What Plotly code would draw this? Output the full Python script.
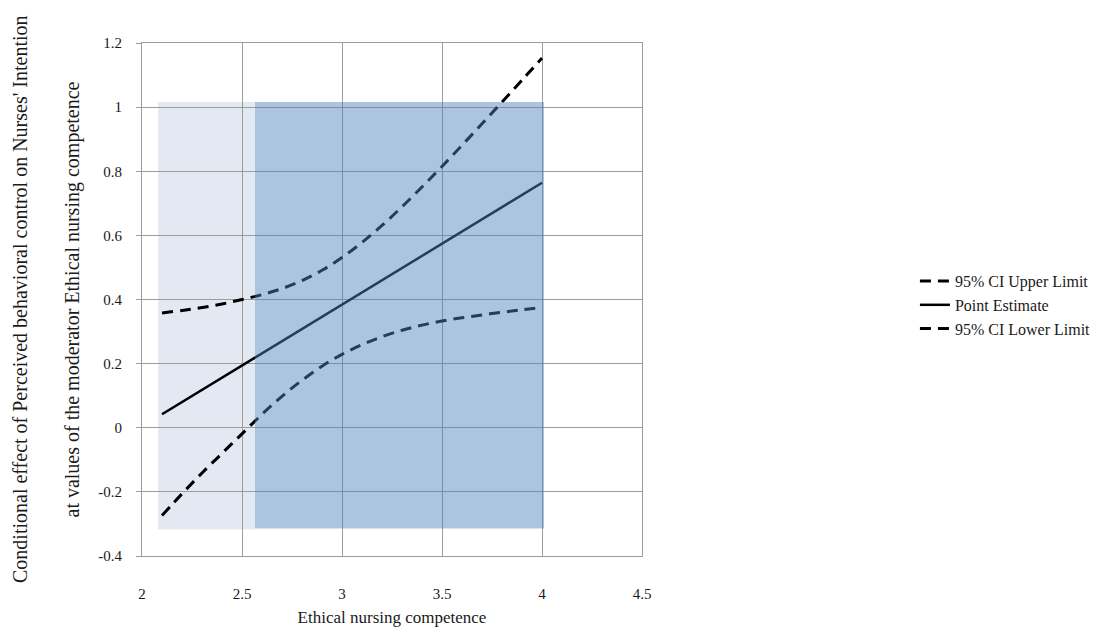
import plotly.graph_objects as go

# Data
x_vals = [2.1, 2.2, 2.3, 2.4, 2.5, 2.6, 2.7, 2.8, 2.9, 3.0,
          3.1, 3.2, 3.3, 3.4, 3.5, 3.6, 3.7, 3.8, 3.9, 4.0]
ci_upper = [0.358, 0.366, 0.375, 0.386, 0.400, 0.415, 0.434, 0.459, 0.491, 0.531,
            0.578, 0.631, 0.689, 0.751, 0.815, 0.881, 0.948, 1.016, 1.084, 1.153]
point_est = [0.042, 0.080, 0.118, 0.156, 0.194, 0.232, 0.270, 0.308, 0.346, 0.384,
             0.422, 0.460, 0.498, 0.536, 0.574, 0.612, 0.650, 0.688, 0.726, 0.764]
ci_lower = [-0.274, -0.206, -0.141, -0.080, -0.019, 0.042, 0.098, 0.148, 0.192, 0.229,
            0.259, 0.284, 0.304, 0.320, 0.333, 0.343, 0.352, 0.360, 0.368, 0.375]

# Shaded regions (x-start, x-end, y-bottom, y-top)
light_region = [2.08, 2.565, -0.317, 1.016]
dark_region = [2.565, 4.01, -0.314, 1.016]

x_ticks = [2, 2.5, 3, 3.5, 4, 4.5]
y_ticks = [-0.4, -0.2, 0, 0.2, 0.4, 0.6, 0.8, 1, 1.2]
y_tick_text = ["-0.4", "-0.2", "0", "0.2", "0.4", "0.6", "0.8", "1", "1.2"]

FONT = "Liberation Serif"
TXT = "#1a1a1a"
GRID = "#9c9c9c"

fig = go.Figure()
fig.add_trace(go.Scatter(x=x_vals, y=ci_upper, mode="lines", name="95% CI Upper Limit",
                         line=dict(color="black", width=3, dash="11px,7px", shape="spline")))
fig.add_trace(go.Scatter(x=x_vals, y=point_est, mode="lines", name="Point Estimate",
                         line=dict(color="black", width=2.5)))
fig.add_trace(go.Scatter(x=x_vals, y=ci_lower, mode="lines", name="95% CI Lower Limit",
                         line=dict(color="black", width=3, dash="11px,7px", shape="spline")))

fig.add_shape(type="rect", xref="x", yref="y",
              x0=light_region[0], x1=light_region[1], y0=light_region[2], y1=light_region[3],
              fillcolor="#e3e9f3", line=dict(width=0), layer="below")
fig.add_shape(type="rect", xref="x", yref="y",
              x0=dark_region[0], x1=dark_region[1], y0=dark_region[2], y1=dark_region[3],
              fillcolor="rgba(79,129,189,0.47)", line=dict(width=0), layer="above")

fig.add_annotation(text="Conditional effect of Perceived behavioral control on Nurses' Intention",
                   xref="paper", yref="paper", x=-0.245, y=0.5, textangle=-90,
                   showarrow=False, font=dict(family=FONT, size=20, color=TXT),
                   xanchor="center", yanchor="middle")
fig.add_annotation(text="at values of the moderator Ethical nursing competence",
                   xref="paper", yref="paper", x=-0.14, y=0.5, textangle=-90,
                   showarrow=False, font=dict(family=FONT, size=20, color=TXT),
                   xanchor="center", yanchor="middle")

fig.update_layout(
    width=1094, height=619,
    margin=dict(l=134, r=460, t=35, b=71, autoexpand=False),
    paper_bgcolor="white", plot_bgcolor="white",
    font=dict(family=FONT, size=15, color=TXT),
    showlegend=True,
    legend=dict(xref="container", yref="container", x=0.829, y=0.52,
                xanchor="left", yanchor="middle",
                font=dict(family=FONT, size=16, color=TXT),
                bgcolor="rgba(0,0,0,0)", itemwidth=30, tracegroupgap=0),
    xaxis=dict(range=[2, 4.5], tickvals=x_ticks, ticktext=[str(v) for v in x_ticks],
               tickfont=dict(family=FONT, size=15, color=TXT),
               showgrid=True, gridcolor=GRID, gridwidth=1,
               showline=True, linecolor=GRID, linewidth=1, mirror=True,
               ticks="", ticklabelstandoff=24, zeroline=False, automargin=False,
               title=dict(text="Ethical nursing competence",
                          font=dict(family=FONT, size=17, color=TXT), standoff=10)),
    yaxis=dict(range=[-0.4, 1.2], tickvals=y_ticks, ticktext=y_tick_text,
               tickfont=dict(family=FONT, size=15, color=TXT),
               showgrid=True, gridcolor=GRID, gridwidth=1,
               showline=True, linecolor=GRID, linewidth=1, mirror=True,
               ticks="outside", ticklen=5, tickcolor=GRID, ticklabelstandoff=11,
               zeroline=False, automargin=False),
)

fig.write_html("out.html")
